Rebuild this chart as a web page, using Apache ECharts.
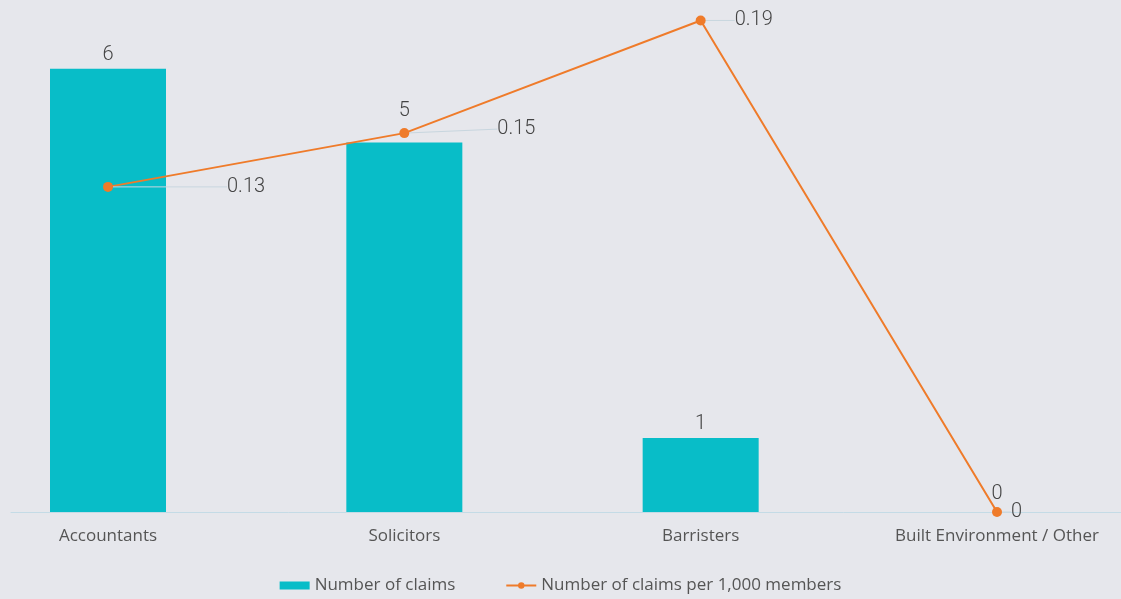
<!DOCTYPE html>
<html>
<head>
<meta charset="utf-8">
<script src="https://cdn.jsdelivr.net/npm/echarts@6/dist/echarts.min.js"></script>
<style>
html,body{margin:0;padding:0;background:#e6e7ec;}
#c{width:1121px;height:599px;}
</style>
</head>
<body>
<div id="c"></div>
<script>
const categories = ['Accountants', 'Solicitors', 'Barristers', 'Built Environment / Other'];
const claims = [6, 5, 1, 0];
const claimsPer1000 = [0.127, 0.148, 0.192, 0];
const lineLabelOffsets = [[109, 0], [83, -4], [24, 0], [4, 0]];
const barLabelOffsets = [0, -18, 0, -4];

const chart = echarts.init(document.getElementById('c'), null, {renderer: 'canvas'});
const numFont = 'Roboto, sans-serif';
const txtFont = '"Open Sans", sans-serif';
chart.setOption({
  backgroundColor: '#e6e7ec',
  animation: false,
  grid: [
    {left: 108, right: 124, top: 0, bottom: 87, containLabel: false},
    {left: 11, right: 0, top: 0, bottom: 87, containLabel: false}
  ],
  legend: {
    bottom: 0,
    left: 'center',
    itemGap: 50,
    textStyle: {color: '#555', fontSize: 17, fontFamily: txtFont},
    data: [
      {name: 'Number of claims', icon: 'rect', itemStyle: {color: '#08bdc8'}},
      {name: 'Number of claims per 1,000 members'}
    ],
    itemWidth: 30,
    itemHeight: 8
  },
  xAxis: [
    {
      type: 'category', data: categories, gridIndex: 0, boundaryGap: false,
      axisLine: {show: false}, axisTick: {show: false},
      axisLabel: {color: '#555', fontSize: 17, fontFamily: txtFont, margin: 16}
    },
    {
      type: 'value', gridIndex: 1, min: 0, max: 1,
      axisLine: {show: true, lineStyle: {color: '#c4dbe6', width: 1}},
      axisTick: {show: false}, axisLabel: {show: false}, splitLine: {show: false}
    }
  ],
  yAxis: [
    {type: 'value', gridIndex: 0, min: 0, max: 6.93, show: false, splitLine: {show: false}},
    {type: 'value', gridIndex: 0, min: 0, max: 0.2, show: false, splitLine: {show: false}},
    {type: 'value', gridIndex: 1, min: 0, max: 1, show: false, splitLine: {show: false}}
  ],
  series: [
    {
      name: 'Number of claims',
      type: 'bar',
      xAxisIndex: 0, yAxisIndex: 0,
      data: claims,
      barWidth: 116,
      itemStyle: {color: '#08bdc8'},
      label: {show: true, position: 'top', color: '#444', fontSize: 20, fontWeight: 300, fontFamily: numFont, distance: 4},
      labelLayout: p => ({dy: barLabelOffsets[p.dataIndex]})
    },
    {
      name: 'Number of claims per 1,000 members',
      type: 'line',
      xAxisIndex: 0, yAxisIndex: 1,
      data: claimsPer1000,
      symbol: 'circle',
      symbolSize: 10,
      z: 5,
      itemStyle: {color: '#ef7b2a'},
      lineStyle: {color: '#ef7b2a', width: 2},
      label: {
        show: true, position: 'right', color: '#444', fontSize: 20, fontWeight: 300, fontFamily: numFont,
        formatter: p => String(+p.value.toFixed(2))
      },
      labelLine: {show: true, lineStyle: {color: '#c8d6df', width: 1}},
      labelLayout: p => ({dx: lineLabelOffsets[p.dataIndex][0], dy: lineLabelOffsets[p.dataIndex][1]})
    }
  ]
});
</script>
</body>
</html>
